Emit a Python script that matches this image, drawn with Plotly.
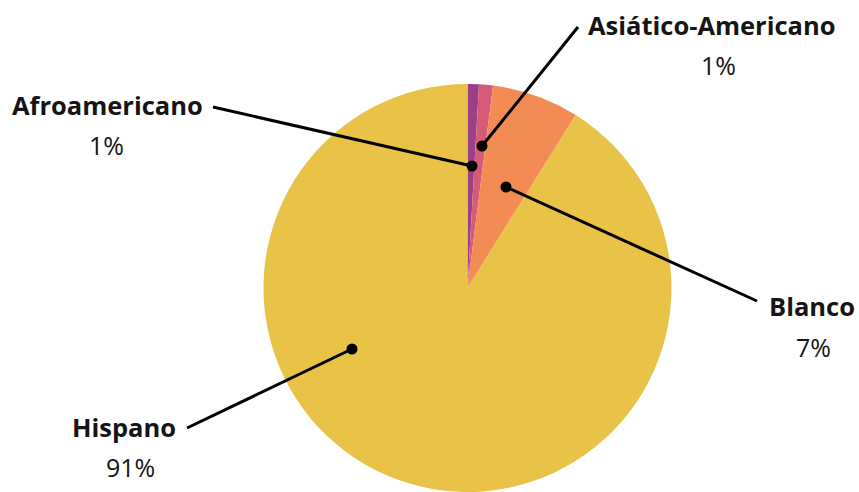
import plotly.graph_objects as go

W, H = 859, 492

categories = ["Afroamericano", "Asiático-Americano", "Blanco", "Hispano"]
values = [0.9, 1.1, 6.9, 91.1]
pct_labels = ["1%", "1%", "7%", "91%"]
colors = ["#9c3f87", "#d75b78", "#f38b54", "#e9c347"]

# label placement (pixel coords from top-left): name position, pct position, line end, dot
label_pos = [(107, 105), (712, 25), (812, 306), (124, 427)]
pct_pos = [(106, 145), (718, 65), (813, 347), (130, 467)]
line_start = [(213, 107), (578, 27), (757, 301), (187, 428)]
dot_pos = [(472, 166), (482, 146), (506, 187), (352, 349)]

FONT = "Open Sans"

fig = go.Figure()
fig.add_trace(go.Pie(
    labels=categories, values=values, sort=False, direction="clockwise",
    rotation=0, marker=dict(colors=colors, line=dict(width=0)),
    textinfo="none", hoverinfo="label+percent", showlegend=False,
    domain=dict(x=[263.5 / W, 671.5 / W], y=[0, (H - 84) / H]),
))

shapes = []
for (x0, y0), (x1, y1) in zip(line_start, dot_pos):
    shapes.append(dict(type="line", xref="x", yref="y", x0=x0, y0=y0, x1=x1, y1=y1,
                       line=dict(color="#000000", width=3)))
    r = 5.5
    shapes.append(dict(type="circle", xref="x", yref="y", x0=x1 - r, y0=y1 - r,
                       x1=x1 + r, y1=y1 + r, fillcolor="#000000", line=dict(width=0)))

annotations = []
for name, (x, y) in zip(categories, label_pos):
    annotations.append(dict(x=x, y=y, xref="x", yref="y", text="<b>" + name + "</b>",
                            showarrow=False, xanchor="center", yanchor="middle",
                            font=dict(family=FONT, size=25.5, color="#151515")))
for p, (x, y) in zip(pct_labels, pct_pos):
    annotations.append(dict(x=x, y=y, xref="x", yref="y", text=p,
                            showarrow=False, xanchor="center", yanchor="middle",
                            font=dict(family=FONT, size=25, color="#151515")))

fig.update_layout(
    width=W, height=H, margin=dict(l=0, r=0, t=0, b=0),
    paper_bgcolor="white", plot_bgcolor="rgba(0,0,0,0)",
    xaxis=dict(range=[0, W], visible=False, fixedrange=True),
    yaxis=dict(range=[H, 0], visible=False, fixedrange=True),
    shapes=shapes, annotations=annotations,
)

fig.write_html("out.html", config={"displayModeBar": False},
               post_script="document.body.style.margin='0';document.body.style.overflow='hidden';")
